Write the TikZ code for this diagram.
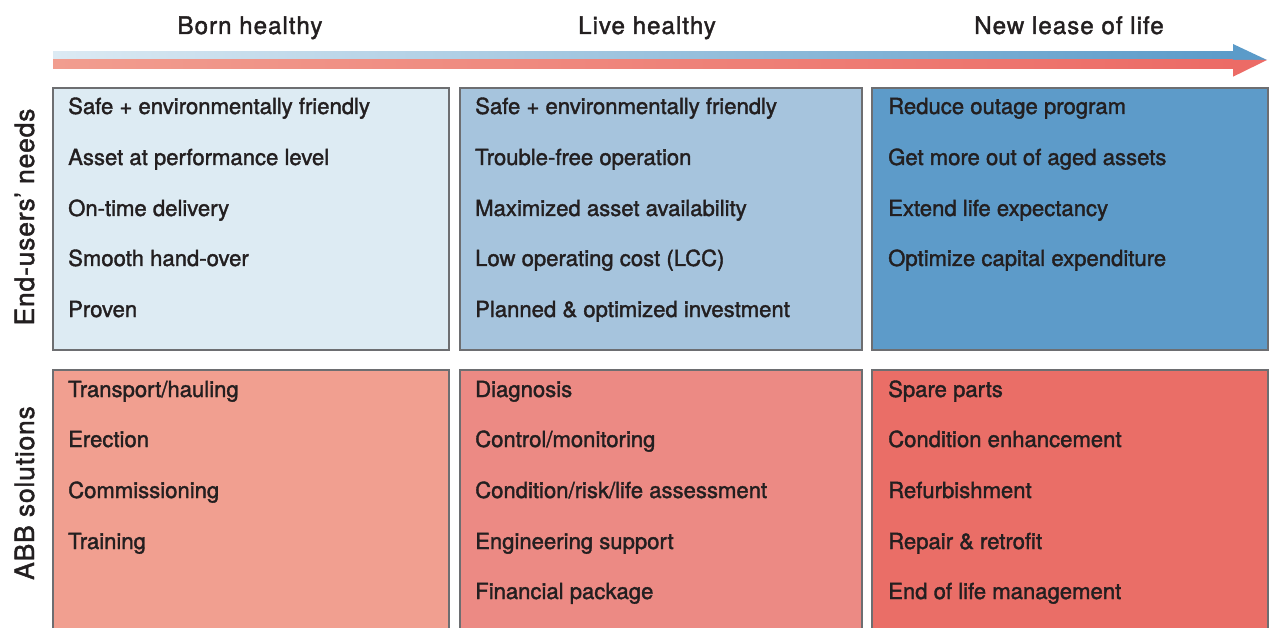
\documentclass[tikz,border=0pt]{standalone}
\usepackage{fontspec}
\setmainfont{TeX Gyre Heros}
\newfontfamily\medfont{TeX Gyre Heros}[FakeBold=1.6]
\usetikzlibrary{calc}
\definecolor{txt}{HTML}{231F20}
\definecolor{bord}{HTML}{6D6E71}
\definecolor{bA}{HTML}{DDEBF3}
\definecolor{bB}{HTML}{A6C4DD}
\definecolor{bC}{HTML}{5D9BC9}
\definecolor{rA}{HTML}{F19F90}
\definecolor{rB}{HTML}{EC8A84}
\definecolor{rC}{HTML}{EA6E67}
\definecolor{arB1}{HTML}{DCEAF3}
\definecolor{arB2}{HTML}{5B9BC9}
\definecolor{arR1}{HTML}{F19D8F}
\definecolor{arR2}{HTML}{EC6B66}
\tikzset{
  item/.style={anchor=base west, inner sep=0pt, text=txt, font=\medfont\fontsize{22.1}{24}\selectfont},
  head/.style={anchor=base, inner sep=0pt, text=txt, font=\medfont\fontsize{24.2}{26}\selectfont\addfontfeature{LetterSpace=4}},
  side/.style={anchor=base, inner sep=0pt, text=txt, rotate=90, font=\medfont\fontsize{26.5}{28}\selectfont\addfontfeature{LetterSpace=3}},
  panel/.style={line width=2.6pt, draw=bord},
}
\begin{document}
\begin{tikzpicture}[x=1pt,y=-1pt]
\useasboundingbox (0,0) rectangle (1274,628);
% arrow
\shade[left color=arB1, right color=arB2] (53,52) rectangle (1234,60);
\shade[left color=arR1, right color=arR2] (53,60) rectangle (1234,68.3);
\fill[arB2] (1233,44) -- (1267,60) -- (1233,60) -- cycle;
\fill[arR2] (1233,60) -- (1267,60) -- (1233,76.7) -- cycle;
% headers
\node[head] (h1) at (250,34) {Born healthy};
\node[head] (h2) at (647,34) {Live healthy};
\node[head] (h3) at (1069,34) {New lease of life};
% side labels
\node[side] (s1) at (34,217) {End-users’ needs};
\node[side] (s2) at (34,493) {ABB solutions};
% top panels
\draw[panel, fill=bA] (53,88) rectangle (449,350);
\draw[panel, fill=bB] (460,88) rectangle (862,350);
\draw[panel, fill=bC] (872,88) rectangle (1268,350);
% bottom panels
\fill[rA] (53,370) rectangle (449,640);
\fill[rB] (460,370) rectangle (862,640);
\fill[rC] (872,370) rectangle (1268,640);
\draw[panel] (53,640) -- (53,370) -- (449,370) -- (449,640);
\draw[panel] (460,640) -- (460,370) -- (862,370) -- (862,640);
\draw[panel] (872,640) -- (872,370) -- (1268,370) -- (1268,640);
% top texts
\node[item] (a1) at (68,114) {Safe + environmentally friendly};
\node[item] (a2) at (68,165) {Asset at performance level};
\node[item] (a3) at (68,216) {On-time delivery};
\node[item] (a4) at (68,266) {Smooth hand-over};
\node[item] (a5) at (68,317) {Proven};
\node[item] (b1) at (475,114) {Safe + environmentally friendly};
\node[item] (b2) at (475,165) {Trouble-free operation};
\node[item] (b3) at (475,216) {Maximized asset availability};
\node[item] (b4) at (475,266) {Low operating cost (LCC)};
\node[item] (b5) at (475,317) {Planned \& optimized investment};
\node[item] (c1) at (888,114) {Reduce outage program};
\node[item] (c2) at (888,165) {Get more out of aged assets};
\node[item] (c3) at (888,216) {Extend life expectancy};
\node[item] (c4) at (888,266) {Optimize capital expenditure};
% bottom texts
\node[item] (d1) at (68,397) {Transport/hauling};
\node[item] (d2) at (68,447) {Erection};
\node[item] (d3) at (68,498) {Commissioning};
\node[item] (d4) at (68,549) {Training};
\node[item] (e1) at (475,397) {Diagnosis};
\node[item] (e2) at (475,447) {Control/monitoring};
\node[item] (e3) at (475,498) {Condition/risk/life assessment};
\node[item] (e4) at (475,549) {Engineering support};
\node[item] (e5) at (475,599) {Financial package};
\node[item] (f1) at (888,397) {Spare parts};
\node[item] (f2) at (888,447) {Condition enhancement};
\node[item] (f3) at (888,498) {Refurbishment};
\node[item] (f4) at (888,549) {Repair \& retrofit};
\node[item] (f5) at (888,599) {End of life management};
\end{tikzpicture}
\end{document}
